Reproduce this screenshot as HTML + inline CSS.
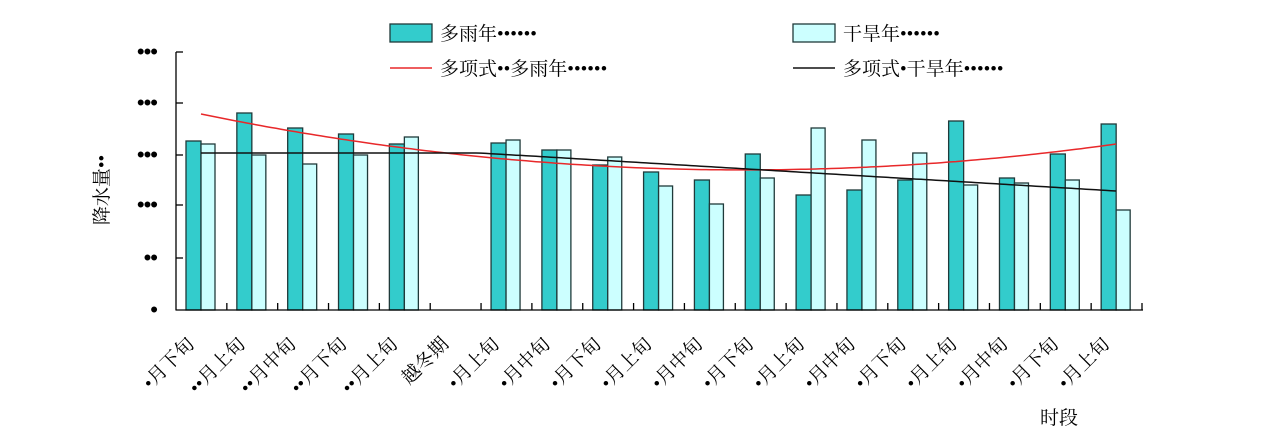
<!DOCTYPE html>
<html><head><meta charset="utf-8"><style>
html,body{margin:0;padding:0;background:#fff;}
svg{display:block;font-family:"Liberation Serif","Noto Serif CJK SC","Noto Sans CJK SC",serif;}
</style></head><body>
<svg width="1269" height="439" viewBox="0 0 1269 439" xmlns="http://www.w3.org/2000/svg">
<g id="bars" stroke="#1f3a3a" stroke-width="1.3"></g>
<polyline id="red" fill="none" stroke="#e8282a" stroke-width="1.5"/>
<polyline id="blk" fill="none" stroke="#111" stroke-width="1.5"/>
<g stroke="#000" stroke-width="1.3">
<line x1="176" y1="52" x2="176" y2="310.5"/>
<line x1="176" y1="310" x2="1143" y2="310"/>
<line x1="176" y1="52" x2="183" y2="52"/>
<line x1="176" y1="103" x2="183" y2="103"/>
<line x1="176" y1="155" x2="183" y2="155"/>
<line x1="176" y1="205" x2="183" y2="205"/>
<line x1="176" y1="258" x2="183" y2="258"/>
<g id="xt"></g>
</g>
<g font-size="22" text-anchor="end" fill="#000" font-family="Liberation Sans,sans-serif" letter-spacing="-1">
<text x="157" y="59">•••</text><text x="157" y="110">•••</text><text x="157" y="162">•••</text>
<text x="157" y="212">•••</text><text x="157" y="265">••</text><text x="157" y="317">•</text>
</g>
<text transform="translate(108,190) rotate(-90)" font-size="19" text-anchor="middle">降水量••</text>
<g id="xl" font-size="19" text-anchor="end"></g>
<text x="1040" y="424" font-size="19">时段</text>
<rect x="390" y="24" width="42" height="18" fill="#33cccc" stroke="#1f3a3a" stroke-width="1.3"/>
<text x="440" y="40" font-size="19">多雨年••••••</text>
<rect x="793" y="24" width="42" height="18" fill="#ccffff" stroke="#1f3a3a" stroke-width="1.3"/>
<text x="843" y="40" font-size="19">干旱年••••••</text>
<line x1="390" y1="68" x2="432" y2="68" stroke="#e8282a" stroke-width="1.5"/>
<text x="440" y="75" font-size="19">多项式••多雨年••••••</text>
<line x1="793" y1="68" x2="835" y2="68" stroke="#111" stroke-width="1.5"/>
<text x="843" y="75" font-size="19">多项式•干旱年••••••</text>
</svg>
<script>
var t=[141,113,128,134,144,null,143,150,165,172,180,154,195,190,180,121,178,154,124];
var l=[144,155,164,155,137,null,140,150,157,186,204,178,128,140,153,185,183,180,210];
var labs=["•月下旬","••月上旬","••月中旬","••月下旬","••月上旬","越冬期","•月上旬","•月中旬","•月下旬","•月上旬","•月中旬","•月下旬","•月上旬","•月中旬","•月下旬","•月上旬","•月中旬","•月下旬","•月上旬"];
var ns="http://www.w3.org/2000/svg",w=(1142-176)/19;
var B=document.getElementById("bars"),X=document.getElementById("xt"),L=document.getElementById("xl");
function el(p,n,a,tx){var e=document.createElementNS(ns,n);for(var k in a)e.setAttribute(k,a[k]);if(tx)e.textContent=tx;p.appendChild(e);}
for(var i=0;i<19;i++){var x0=176+i*w;
 if(t[i]!=null){el(B,"rect",{x:x0+10,y:t[i],width:15,height:310-t[i],fill:"#33cccc"});
 el(B,"rect",{x:x0+25,y:l[i],width:14,height:310-l[i],fill:"#ccffff"});}
 el(X,"line",{x1:x0+w,y1:303,x2:x0+w,y2:310});
 var cx=x0+w/2-6,cy=345;
 el(L,"text",{x:cx,y:cy,transform:"rotate(-45 "+cx+" "+cy+")"},labs[i]);}
var r=[],b=[];
for(var x=201;x<=1116;x+=5){var u=(x-201)/915;
 var ry=114+188*u-158*u*u;
 r.push(x+","+ry.toFixed(1));
 var by=x<480?153:153+(x-480)/636*38;
 b.push(x+","+by.toFixed(1));}
document.getElementById("red").setAttribute("points",r.join(" "));
document.getElementById("blk").setAttribute("points",b.join(" "));
</script>
</body></html>
